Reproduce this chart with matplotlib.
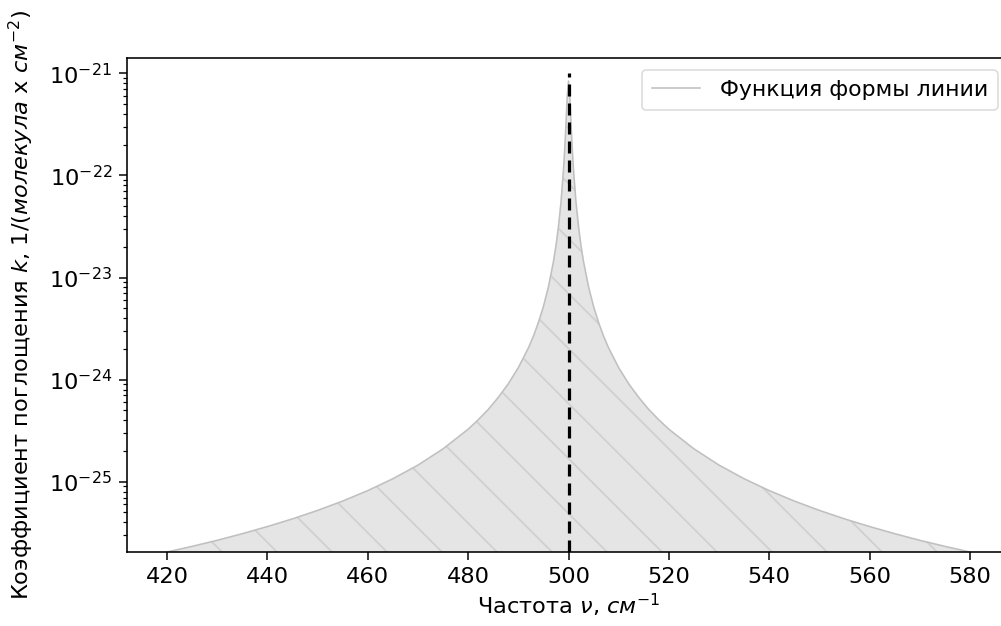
import numpy as np
import matplotlib
matplotlib.use('Agg')
import matplotlib.pyplot as plt

# Line shape values (cm^-1 -> 1/(molecule x cm^-2))
nu = [420, 425, 430, 435, 440, 445, 450, 455, 460, 465, 470, 475, 480,
      482, 484, 486, 488, 490, 492, 493, 494, 495, 496, 497, 497.5, 498,
      498.5, 499, 499.25, 499.5, 499.75, 500,
      500.25, 500.5, 500.75, 501, 501.5, 502, 502.5, 503, 504, 505, 506,
      507, 508, 510, 512, 514, 516, 518, 520, 525, 530, 535, 540, 545,
      550, 555, 560, 565, 570, 575, 580]
k = [2.05e-26, 2.33e-26, 2.67e-26, 3.10e-26, 3.64e-26, 4.33e-26, 5.24e-26,
     6.47e-26, 8.19e-26, 1.07e-25, 1.455e-25, 2.10e-25, 3.27e-25,
     4.04e-25, 5.1e-25, 6.7e-25, 9.1e-25, 1.31e-24, 2.04e-24, 2.66e-24,
     3.62e-24, 5.2e-24, 8.1e-24, 1.43e-23, 2.04e-23, 3.15e-23,
     5.44e-23, 1.13e-22, 1.82e-22, 3.23e-22, 6.0e-22, 8.4e-22,
     6.0e-22, 3.23e-22, 1.82e-22, 1.13e-22, 5.44e-23, 3.15e-23, 2.04e-23,
     1.43e-23, 8.1e-24, 5.2e-24, 3.62e-24, 2.66e-24, 2.04e-24, 1.31e-24,
     9.1e-25, 6.7e-25, 5.1e-25, 4.04e-25, 3.27e-25, 2.10e-25, 1.455e-25,
     1.07e-25, 8.19e-26, 6.47e-26, 5.24e-26, 4.33e-26, 3.64e-26, 3.10e-26,
     2.67e-26, 2.33e-26, 2.05e-26]
nu0 = 500
k_max = 1e-21
xticks = [420, 440, 460, 480, 500, 520, 540, 560, 580]
yticks = [1e-25, 1e-24, 1e-23, 1e-22, 1e-21]

DPI = 165


def px(p):
    # pixels -> points at the figure dpi
    return p * 72 / DPI


plt.rcParams['font.family'] = ['DejaVu Sans']
plt.rcParams['mathtext.fontset'] = 'dejavusans'
plt.rcParams['hatch.linewidth'] = px(1.8)
plt.rcParams['lines.scale_dashes'] = False
fs = px(22.5)

fig = plt.figure(figsize=(1001 / DPI, 626 / DPI), dpi=DPI)
ax = fig.add_axes([127 / 1001, 74 / 626, 883 / 1001, 494 / 626])

ax.plot(nu, k, color='silver', lw=px(1.6), label='Функция формы линии')
ax.fill_between(nu, k, k[0], color='grey', alpha=0.2, hatch='\\', lw=0)
ax.vlines(nu0, k[0], k_max, colors='black', linestyles=(0, (px(12), px(7))),
          lw=px(3.2))

ax.set_yscale('log')
ax.set_xlim(412, 588)
ax.set_ylim(k[0], 10 ** -20.85)
ax.set_xticks(xticks)
ax.set_yticks(yticks)

for s in ax.spines.values():
    s.set_linewidth(px(1.6))
ax.tick_params(which='major', length=px(8), width=px(1.5), pad=px(7),
               labelsize=fs)
ax.tick_params(which='minor', length=px(4.5), width=px(1.2))

ax.set_xlabel('Частота $\\nu$, $см^{-1}$', fontsize=fs, labelpad=px(5))
ax.set_ylabel('Коэффициент поглощения $k$, 1/($молекула$ x $см^{-2}$)',
              fontsize=fs, labelpad=px(13))

leg = ax.legend(loc='upper right', fontsize=px(22), borderaxespad=0.55,
                handlelength=2.2, handletextpad=0.9, borderpad=0.45)
leg.get_frame().set_linewidth(px(1.5))
leg.get_frame().set_edgecolor('#d0d0d0')

fig.savefig('out.png', dpi=DPI)
